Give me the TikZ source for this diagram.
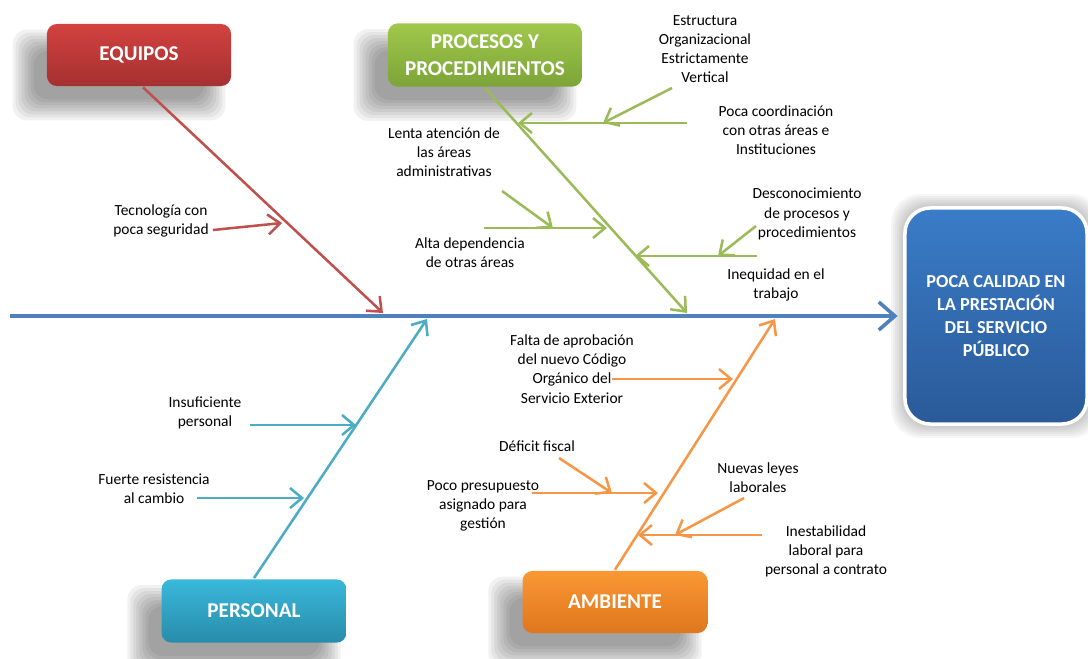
\documentclass[tikz,border=0pt]{standalone}
\usepackage{fontspec}
\setmainfont{Carlito}
\usetikzlibrary{arrows.meta,backgrounds}

\definecolor{rojo}{HTML}{C0504D}
\definecolor{verde}{HTML}{9BBB59}
\definecolor{celeste}{HTML}{4BACC6}
\definecolor{naranja}{HTML}{F79646}
\definecolor{azul}{HTML}{4F81BD}

\begin{document}
\begin{tikzpicture}[x=0.025cm, y=-0.025cm, >={Straight Barb[length=3mm,width=5mm]}, line width=1.8pt,
  causa/.style={rounded corners=7pt, text=white, align=center,
    font=\fontsize{15}{19}\selectfont\bfseries},
  texto/.style={align=center, text=black, inner sep=0pt, font=\fontsize{11}{13.6}\selectfont},
  sombra/.style={black, opacity=.055, rounded corners=10pt}]
  \useasboundingbox (0,0) rectangle (1088,659);

  % efecto
  \node[rounded corners=18pt, draw=white, line width=2.5pt, top color={rgb,255:red,58;green,124;blue,200},
    bottom color={rgb,255:red,42;green,90;blue,152},
    minimum width=4.55cm, minimum height=5.4cm, text=white, align=center,
    font=\fontsize{13}{16.5}\selectfont\bfseries] (efecto) at (996,316)
    {POCA CALIDAD EN\\LA PRESTACIÓN\\DEL SERVICIO\\PÚBLICO};

  % espina central
  \coordinate (cola) at (10,316);
  \draw[azul, line width=2.6pt, ->, >={Straight Barb[length=4mm,width=7mm]}, shorten >=4pt] (cola) -- (efecto.west);

  % categorias
  \node[causa, top color={rgb,255:red,210;green,66;blue,64}, bottom color={rgb,255:red,165;green,48;blue,48}, minimum width=4.6cm, minimum height=1.55cm] (equipos) at (139,55) {EQUIPOS};
  \node[causa, top color={rgb,255:red,160;green,200;blue,76}, bottom color={rgb,255:red,124;green,164;blue,56}, minimum width=4.85cm, minimum height=1.58cm] (procesos) at (485,55) {PROCESOS Y\\PROCEDIMIENTOS};
  \node[causa, top color={rgb,255:red,58;green,184;blue,218}, bottom color={rgb,255:red,40;green,140;blue,170}, minimum width=4.62cm, minimum height=1.58cm] (personal) at (254,611) {PERSONAL};
  \node[causa, top color={rgb,255:red,250;green,152;blue,52}, bottom color={rgb,255:red,222;green,118;blue,30}, minimum width=4.62cm, minimum height=1.55cm] (ambiente) at (615,602) {AMBIENTE};

  % sombras
  \begin{scope}[on background layer]
    \foreach \caja in {equipos,procesos,personal,ambiente}
      \foreach \k in {-8,-5,...,13}
        \fill[sombra] ([shift={(-20-\k,20+\k)}]\caja.south west) rectangle ([shift={(-20+\k,20-\k)}]\caja.north east);
    \foreach \k in {2,4,...,12}
      \fill[sombra, opacity=.035, rounded corners=20pt] ([shift={(-\k,\k)}]efecto.south west) rectangle ([shift={(\k,-\k)}]efecto.north east);
  \end{scope}

  % puntos sobre la espina
  \coordinate (eqfin) at (383,313);
  \coordinate (prfin) at (687,313);
  \coordinate (pefin) at (427,319);
  \coordinate (amfin) at (775,319);

  % espinas principales
  \draw[rojo, ->] ([xshift=0.1cm]equipos.south) -- (eqfin);
  \draw[verde, ->] (procesos.south) -- (prfin);
  \draw[celeste, ->] (personal.north) -- (pefin);
  \draw[naranja, ->] (ambiente.north) -- (amfin);

  % textos de causas
  \node[texto] (tecno) at (161,221) {Tecnología con\\poca seguridad};
  \node[texto] (estructura) at (705,49) {Estructura\\Organizacional\\Estrictamente\\Vertical};
  \node[texto] (coordinacion) at (776,130) {Poca coordinación\\con otras áreas e\\Instituciones};
  \node[texto] (lenta) at (444,152) {Lenta atención de\\las áreas\\administrativas};
  \node[texto] (desconoc) at (807,214) {Desconocimiento\\de procesos y\\procedimientos};
  \node[texto] (alta) at (470,253) {Alta dependencia\\de otras áreas};
  \node[texto] (inequidad) at (776,285) {Inequidad en el\\trabajo};
  \node[texto] (insuf) at (205,413) {Insuficiente\\personal};
  \node[texto] (fuerte) at (154,489) {Fuerte resistencia\\al cambio};
  \node[texto] (falta) at (572,369) {Falta de aprobación\\del nuevo Código\\Orgánico del\\Servicio Exterior};
  \node[texto] (deficit) at (537,446) {Déficit fiscal};
  \node[texto] (presup) at (483,506) {Poco presupuesto\\asignado para\\gestión};
  \node[texto] (nuevas) at (758,478) {Nuevas leyes\\laborales};
  \node[texto] (inestab) at (826,551) {Inestabilidad\\laboral para\\personal a contrato};

  % flechas de EQUIPOS
  \coordinate (tecA) at (213,230);
  \coordinate (tecB) at (282,223);
  \draw[rojo, ->] (tecA) -- (tecB);

  % flechas de PROCESOS
  \coordinate (coA) at (687,123);
  \coordinate (coB) at (518,123);
  \coordinate (esA) at (672,88);
  \coordinate (esB) at (603,123);
  \draw[verde, ->] (coA) -- (coB);
  \draw[verde, ->] (esA) -- (esB);
  \coordinate (alA) at (484,228);
  \coordinate (alB) at (607,228);
  \coordinate (leA) at (502,191);
  \coordinate (leB) at (553,228);
  \draw[verde, ->] (alA) -- (alB);
  \draw[verde, ->] (leA) -- (leB);
  \coordinate (deA) at (757,256);
  \coordinate (deB) at (635,256);
  \coordinate (dsA) at (756,226);
  \coordinate (dsB) at (718,256);
  \draw[verde, ->] (deA) -- (deB);
  \draw[verde, ->] (dsA) -- (dsB);

  % flechas de PERSONAL
  \coordinate (inA) at (250,425);
  \coordinate (inB) at (356,425);
  \coordinate (fuA) at (197,498);
  \coordinate (fuB) at (304,498);
  \draw[celeste, ->] (inA) -- (inB);
  \draw[celeste, ->] (fuA) -- (fuB);

  % flechas de AMBIENTE
  \coordinate (faA) at (612,379);
  \coordinate (faB) at (733,379);
  \draw[naranja, ->] (faA) -- (faB);
  \coordinate (poA) at (532,493);
  \coordinate (poB) at (658,493);
  \coordinate (dfA) at (559,458);
  \coordinate (dfB) at (612,493);
  \draw[naranja, ->] (poA) -- (poB);
  \draw[naranja, ->] (dfA) -- (dfB);
  \coordinate (ieA) at (762,535);
  \coordinate (ieB) at (638,535);
  \coordinate (nuA) at (744,498);
  \coordinate (nuB) at (675,535);
  \draw[naranja, ->] (ieA) -- (ieB);
  \draw[naranja, ->] (nuA) -- (nuB);
\end{tikzpicture}
\end{document}
